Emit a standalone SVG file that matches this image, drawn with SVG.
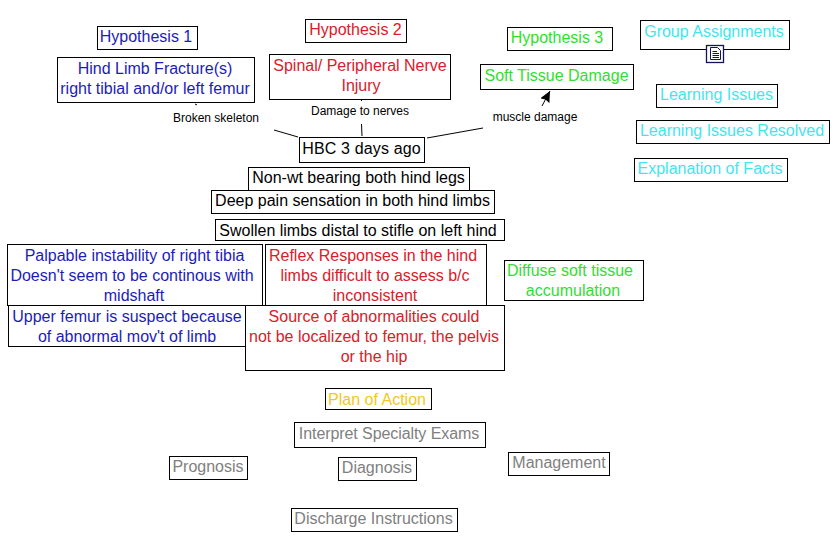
<svg xmlns="http://www.w3.org/2000/svg" width="838" height="550" viewBox="0 0 838 550">
<style>
text{font-family:"Liberation Sans",Arial,sans-serif;font-size:16px;text-anchor:middle}
.n rect{fill:#fff;stroke:#000;stroke-width:1}
.b{fill:#1c1cb8}.r{fill:#d8202a}.g{fill:#2fe02f}.c{fill:#3fe6ee}.k{fill:#000}.y{fill:#f2c81e}.e{fill:#808080}
text.l{font-size:12px;fill:#000}
#connectors line{stroke:#000;stroke-width:1}
#doc-icon rect{fill:#fff;stroke:#14145a;stroke-width:1.300}
#doc-icon path{stroke:#14145a;stroke-width:1;fill:none}
</style>
<defs><marker id="arrow" viewBox="0 0 11 10.400" refX="11" refY="5.200" markerWidth="11" markerHeight="10.400" markerUnits="userSpaceOnUse" orient="auto"><path d="M0 0L11 5.200L0 10.400L1.500 5.200Z" fill="#000"/></marker></defs>
<rect width="838" height="550" fill="#fff"/>
<g id="connectors">
<line x1="298" y1="137" x2="274" y2="130"/>
<line x1="195" y1="104" x2="197" y2="105"/>
<line x1="362" y1="136" x2="361.500" y2="124"/>
<line x1="361.500" y1="100" x2="361.500" y2="101"/>
<line x1="427" y1="138" x2="483" y2="128"/>
<line x1="542" y1="106" x2="550" y2="91" marker-end="url(#arrow)"/>
</g>
<g id="label-broken"><text class="l" x="216" y="122">Broken skeleton</text></g>
<g id="label-nerves"><text class="l" x="360" y="115">Damage to nerves</text></g>
<g id="label-muscle"><text class="l" x="535" y="121">muscle damage</text></g>
<g id="hyp1" class="n"><rect x="97.500" y="26.500" width="100" height="23"/><text class="b" x="146" y="42">Hypothesis 1</text></g>
<g id="hind" class="n"><rect x="57.500" y="57.500" width="197" height="45"/><text class="b" x="155" y="74">Hind Limb Fracture(s)</text><text class="b" x="155" y="94">right tibial and/or left femur</text></g>
<g id="hyp2" class="n"><rect x="305.500" y="19.500" width="101" height="23"/><text class="r" x="355.500" y="35">Hypothesis 2</text></g>
<g id="spinal" class="n"><rect x="269.500" y="54.500" width="181" height="45"/><text class="r" x="360" y="71">Spinal/ Peripheral Nerve</text><text class="r" x="361" y="91">Injury</text></g>
<g id="hyp3" class="n"><rect x="507.500" y="27.500" width="105" height="23"/><text class="g" x="557" y="43">Hypothesis 3</text></g>
<g id="soft" class="n"><rect x="480.500" y="64.500" width="153" height="25"/><text class="g" x="556.500" y="81">Soft Tissue Damage</text></g>
<g id="group" class="n"><rect x="640.500" y="20.500" width="149" height="29"/><text class="c" x="714" y="37">Group Assignments</text>
<g id="doc-icon"><rect x="706.500" y="45.500" width="17" height="17"/><path d="M710.500 47.500H717.500L720.500 50.500V59.500H710.500ZM712.500 51.500H717M712.500 53.500H719M712.500 55.500H719M712.500 57.500H719"/></g></g>
<g id="learning" class="n"><rect x="656.500" y="84.500" width="121" height="23"/><text class="c" x="716.500" y="100">Learning Issues</text></g>
<g id="resolved" class="n"><rect x="636.500" y="120.500" width="193" height="23"/><text class="c" x="732" y="136">Learning Issues Resolved</text></g>
<g id="facts" class="n"><rect x="634.500" y="158.500" width="153" height="23"/><text class="c" x="710" y="174">Explanation of Facts</text></g>
<g id="hbc" class="n"><rect x="299.500" y="137.500" width="125" height="25"/><text class="k" x="361.500" y="154" letter-spacing="0.150">HBC 3 days ago</text></g>
<g id="nonwt" class="n"><rect x="248.500" y="167.500" width="221" height="23"/><text class="k" x="358.500" y="183">Non-wt bearing both hind legs</text></g>
<g id="deep" class="n"><rect x="211.500" y="190.500" width="283" height="23"/><text class="k" x="352.500" y="206">Deep pain sensation in both hind limbs</text></g>
<g id="swollen" class="n"><rect x="215.500" y="219.500" width="289" height="21"/><text class="k" x="358" y="236">Swollen limbs distal to stifle on left hind</text></g>
<g id="palpable" class="n"><rect x="7.500" y="244.500" width="255" height="61"/><text class="b" x="134.500" y="261">Palpable instability of right tibia</text><text class="b" x="132" y="281">Doesn't seem to be continous with</text><text class="b" x="134" y="301">midshaft</text></g>
<g id="reflex" class="n"><rect x="265.500" y="244.500" width="221" height="61"/><text class="r" x="373" y="261">Reflex Responses in the hind</text><text class="r" x="375" y="281">limbs difficult to assess b/c</text><text class="r" x="375" y="301">inconsistent</text></g>
<g id="upper" class="n"><rect x="8.500" y="305.500" width="238" height="41"/><text class="b" x="127" y="322">Upper femur is suspect because</text><text class="b" x="127" y="342">of abnormal mov't of limb</text></g>
<g id="source" class="n"><rect x="245.500" y="305.500" width="259" height="65"/><text class="r" x="374" y="322">Source of abnormalities could</text><text class="r" x="374" y="342">not be localized to femur, the pelvis</text><text class="r" x="374" y="362">or the hip</text></g>
<g id="diffuse" class="n"><rect x="504.500" y="260.500" width="139" height="40"/><text class="g" x="570" y="276">Diffuse soft tissue</text><text class="g" x="573" y="296">accumulation</text></g>
<g id="plan" class="n"><rect x="325.500" y="388.500" width="106" height="21"/><text class="y" x="377" y="405">Plan of Action</text></g>
<g id="interpret" class="n"><rect x="294.500" y="422.500" width="191" height="25"/><text class="e" x="389" y="439" letter-spacing="-0.080">Interpret Specialty Exams</text></g>
<g id="prognosis" class="n"><rect x="169.500" y="456.500" width="78" height="23"/><text class="e" x="208" y="472">Prognosis</text></g>
<g id="diagnosis" class="n"><rect x="338.500" y="457.500" width="78" height="23"/><text class="e" x="377" y="473">Diagnosis</text></g>
<g id="management" class="n"><rect x="508.500" y="452.500" width="101" height="23"/><text class="e" x="559" y="468">Management</text></g>
<g id="discharge" class="n"><rect x="291.500" y="508.500" width="166" height="23"/><text class="e" x="373.500" y="524">Discharge Instructions</text></g>
</svg>
